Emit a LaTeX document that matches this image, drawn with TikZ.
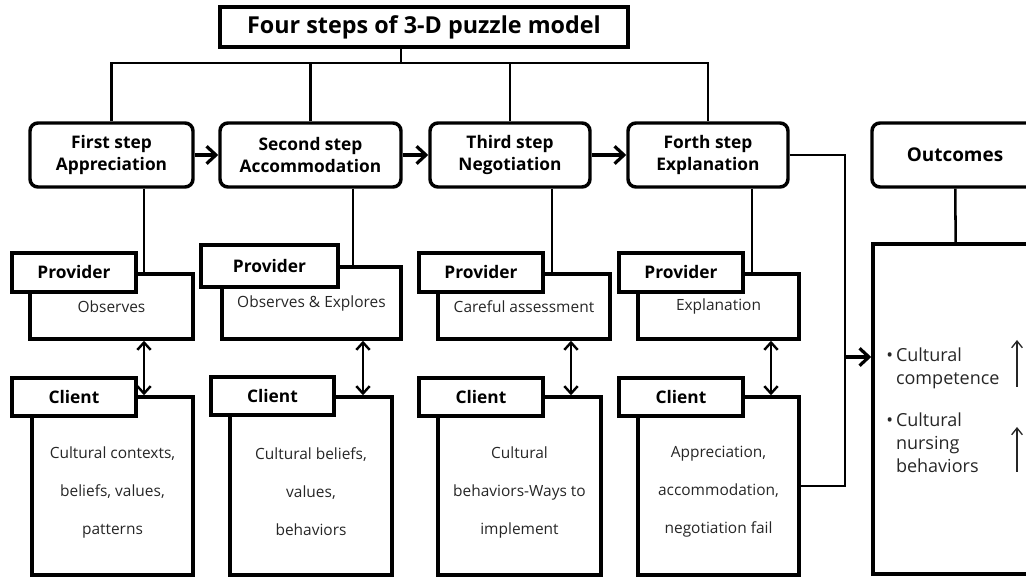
\documentclass[tikz,border=0pt]{standalone}
\usepackage{fontspec}
\setmainfont{Open Sans}
\usetikzlibrary{arrows.meta,positioning,calc}

\begin{document}
\begin{tikzpicture}[
  x=0.75pt, y=-0.75pt,
  sz/.style 2 args={minimum width=#1*0.75pt, minimum height=#2*0.75pt},
  titlebox/.style={draw, line width=2.6pt, inner sep=0pt,
              font=\fontsize{17.5}{20}\selectfont\bfseries},
  stepbox/.style={draw, line width=2.6pt, rounded corners=6pt, align=center,
              inner sep=0pt, font=\fontsize{13}{16}\selectfont\bfseries},
  tabbox/.style={draw, fill=white, line width=2.6pt, inner sep=0pt,
              font=\fontsize{13}{15}\selectfont\bfseries},
  bodybox/.style={draw, line width=2.6pt, inner sep=0pt, align=center,
              text=black!85, font=\fontsize{11.6}{14}\selectfont},
  bodytext/.style={inner sep=0pt, align=center, text=black!85,
              font=\fontsize{11.6}{28.5}\selectfont},
  itemtext/.style={anchor=north west, align=left, inner sep=0pt, text=black!85,
              font=\fontsize{13.5}{17}\selectfont},
  link/.style={line width=1.9pt},
  steparr/.style={-{Straight Barb[length=7pt,width=13pt,line width=2.4pt]}, line width=2.6pt},
  duoarr/.style={{Straight Barb[length=5.5pt,width=10pt]}-{Straight Barb[length=5.5pt,width=10pt]}, line width=1.8pt},
  uparr/.style={-{Straight Barb[length=5pt,width=8pt]}, line width=1pt, black!85},
]
\useasboundingbox (0,0) rectangle (1026,577);
\clip (0,0) rectangle (1026,577);

% title and the four steps
\node[titlebox, sz={408}{40}] (title) at (424,27) {Four steps of 3-D puzzle model};
\node[stepbox, sz={163}{64}] (s1) at (111.5,155) {First step\\Appreciation};
\node[stepbox, sz={181}{64}] (s2) at (310.5,155) {Second step\\Accommodation};
\node[stepbox, sz={160}{64}] (s3) at (510,155) {Third step\\Negotiation};
\node[stepbox, sz={160}{64}] (s4) at (708,155) {Forth step\\Explanation};
\node[stepbox, sz={166}{64}, font=\fontsize{14.2}{16}\selectfont\bfseries] (out) at (955,155) {Outcomes};

\coordinate (bus) at (401,63);
\draw[link] (title.south -| bus) -- (bus);
\draw[link] (s1.north) |- (bus) -| (s4.north);
\draw[link] (s2.north) -- (s2.north |- bus);
\draw[link] (s3.north) -- (s3.north |- bus);

\draw[steparr] (s1) -- (s2);
\draw[steparr] (s2) -- (s3);
\draw[steparr] (s3) -- (s4);

% provider boxes
\node[bodybox, sz={163}{65}] (pb1) at (111.5,306.5) {Observes};
\node[tabbox, sz={124}{39}] (pt1) at (74,272.5) {Provider};
\node[bodybox, sz={179}{72}] (pb2) at (311.5,303) {Observes \& Explores};
\node[tabbox, sz={137}{42}] (pt2) at (269.5,266) {Provider};
\node[bodybox, sz={172}{65}] (pb3) at (524,306.5) {Careful assessment};
\node[tabbox, sz={124}{39}] (pt3) at (481,272.5) {Provider};
\node[bodybox, sz={161}{65}] (pb4) at (718.5,306.5) {Explanation};
\node[tabbox, sz={124}{39}] (pt4) at (681,272.5) {Provider};

% client boxes
\node[bodybox, sz={161}{178}] (cb1) at (112.5,486) {};
\node[bodytext] (cx1) at (112.5,492) {Cultural contexts,\\beliefs, values,\\patterns};
\node[tabbox, sz={124}{38}] (ct1) at (74,397) {Client};
\node[bodybox, sz={162}{178}] (cb2) at (311,486) {};
\node[bodytext] (cx2) at (311,492) {Cultural beliefs,\\values,\\behaviors};
\node[tabbox, sz={123}{38}] (ct2) at (272.5,396) {Client};
\node[bodybox, sz={163}{178}] (cb3) at (519.5,486) {};
\node[bodytext] (cx3) at (519.5,492) {Cultural\\behaviors-Ways to\\implement};
\node[tabbox, sz={124}{38}] (ct3) at (481,397) {Client};
\node[bodybox, sz={161}{178}] (cb4) at (718.5,486) {};
\node[bodytext] (cx4) at (718.5,492) {Appreciation,\\accommodation,\\negotiation fail};
\node[tabbox, sz={124}{38}] (ct4) at (681,397) {Client};

% stems and provider-client links
\coordinate (k1) at (144,0);
\coordinate (k2) at (353,0);
\coordinate (k3) at (552,0);
\coordinate (k4) at (752,0);
\draw[link] (s1.south -| k1) -- (pb1.north -| k1);
\draw[link] (s2.south -| k2) -- (pb2.north -| k2);
\draw[link] (s3.south -| k3) -- (pb3.north -| k3);
\draw[link] (s4.south -| k4) -- (pb4.north -| k4);

\coordinate (a1) at (144,0);
\coordinate (a2) at (363,0);
\coordinate (a3) at (571,0);
\coordinate (a4) at (771,0);
\draw[duoarr] (pb1.south -| a1) -- (cb1.north -| a1);
\draw[duoarr] (pb2.south -| a2) -- (cb2.north -| a2);
\draw[duoarr] (pb3.south -| a3) -- (cb3.north -| a3);
\draw[duoarr] (pb4.south -| a4) -- (cb4.north -| a4);

% outcomes
\node[bodybox, sz={168}{330}] (ob) at (957,409) {};
\draw[link] (out) -- (ob);

\coordinate (rail) at (845,0);
\draw[link] (s4.east) -| (rail |- cb4.east) -- (cb4.east);
\coordinate (tap) at (845,357);
\draw[steparr] (tap) -- (tap -| ob.west);

\node[itemtext] (oc1) at (886,348)
  {\textbullet\,Cultural\\\hphantom{\textbullet\,}competence};
\node[itemtext] (oc2) at (886,413)
  {\textbullet\,Cultural\\\hphantom{\textbullet\,}nursing\\\hphantom{\textbullet\,}behaviors};

\coordinate (u1) at (1017,387);
\coordinate (u2) at (1017,472);
\draw[uparr] (u1) -- ++(0,-47);
\draw[uparr] (u2) -- ++(0,-45);
\end{tikzpicture}
\end{document}
